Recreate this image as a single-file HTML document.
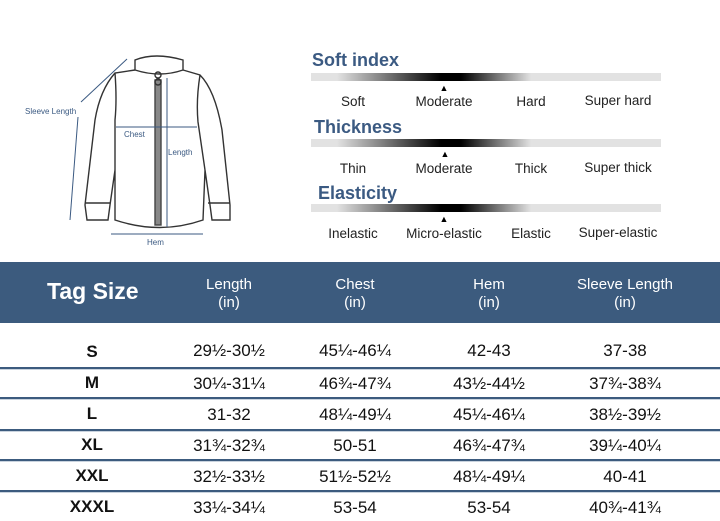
<!DOCTYPE html>
<html><head><meta charset="utf-8"><style>
body{margin:0;width:720px;height:521px;overflow:hidden;background:#fff;font-family:"Liberation Sans","DejaVu Sans",sans-serif;position:relative}
.a{position:absolute;white-space:nowrap}
.t{color:#3b5a82;font-weight:bold;font-size:18px}
.lab{font-size:13.5px;color:#222;transform:translateX(-50%)}
.bar{position:absolute;left:311px;width:350px;height:8px;background:linear-gradient(90deg,#e2e2e2 0,#e2e2e2 26px,#000 130px,#000 150px,#e2e2e2 220px,#e2e2e2 100%)}
.tri{position:absolute;font-size:9px;color:#000;transform:translateX(-50%)}
.hd{position:absolute;left:0;top:262px;width:720px;height:61px;background:#3c5b7e}
.hc{color:#fff;font-size:15px;text-align:center;line-height:18px;transform:translateX(-50%)}
.c{font-size:17px;color:#111;transform:translateX(-50%)}
.b{font-weight:bold}
.ln{position:absolute;left:0;width:720px;height:2px;background:#3c5b7e;border-bottom:1px solid #c9d3de}
</style></head><body>
<svg class="a" style="left:0;top:40px" width="260" height="220" viewBox="0 0 260 220" fill="none" stroke="#333" stroke-width="1.4">
<path d="M135 20 Q155 12 183 20 L183 30 Q160 38 135 30 Z"/>
<path d="M135 30 L115 33 Q100 50 95 80 L85 165 L87 180 L108 180 L110 165 L115 130 L115 180 Q160 195 203 180 L205 130 L210 165 L212 180 L230 180 L230 165 L222 90 Q215 50 200 35 L183 30"/>
<path d="M85 163 L110 163 M208 163 L230 163"/>
<path d="M115 33 Q117 60 115 80 L115 130 M200 35 Q196 60 198 82 L205 130"/>
<rect x="155" y="40" width="6" height="145" fill="#888" stroke="#444"/>
<circle cx="158" cy="35" r="3"/><circle cx="158" cy="42" r="3"/>
<g stroke="#3b5a82" fill="#3b5a82" stroke-width="1">
<line x1="116" y1="87" x2="197" y2="87"/>
<line x1="167" y1="38" x2="167" y2="187"/>
<line x1="111" y1="194" x2="203" y2="194"/>
<line x1="81" y1="62" x2="127" y2="19"/>
<line x1="78" y1="77" x2="70" y2="180"/>
</g>
<g fill="#3b5a82" font-size="8" stroke="none" font-family="Liberation Sans,sans-serif">
<text x="25" y="74">Sleeve Length</text><text x="124" y="97">Chest</text>
<text x="168" y="115">Length</text><text x="147" y="205">Hem</text></g>
</svg>
<div class="a t" style="left:312px;top:50px">Soft index</div>
<div class="bar" style="top:73px"></div><div class="tri" style="left:444px;top:83px">▲</div>
<div class="a lab" style="left:353px;top:94px">Soft</div><div class="a lab" style="left:444px;top:94px">Moderate</div><div class="a lab" style="left:531px;top:94px">Hard</div><div class="a lab" style="left:618px;top:93px">Super hard</div>
<div class="a t" style="left:314px;top:117px">Thickness</div>
<div class="bar" style="top:139px"></div><div class="tri" style="left:445px;top:149px">▲</div>
<div class="a lab" style="left:353px;top:161px">Thin</div><div class="a lab" style="left:444px;top:161px">Moderate</div><div class="a lab" style="left:531px;top:161px">Thick</div><div class="a lab" style="left:618px;top:160px">Super thick</div>
<div class="a t" style="left:318px;top:183px">Elasticity</div>
<div class="bar" style="top:204px"></div><div class="tri" style="left:444px;top:214px">▲</div>
<div class="a lab" style="left:353px;top:226px">Inelastic</div><div class="a lab" style="left:444px;top:226px">Micro-elastic</div><div class="a lab" style="left:531px;top:226px">Elastic</div><div class="a lab" style="left:618px;top:225px">Super-elastic</div>
<div class="hd"></div>
<div class="a b" style="left:47px;top:278px;color:#fff;font-size:23px">Tag Size</div>
<div class="a hc" style="left:229px;top:276px">Length<br>(in)</div>
<div class="a hc" style="left:355px;top:276px">Chest<br>(in)</div>
<div class="a hc" style="left:489px;top:276px">Hem<br>(in)</div>
<div class="a hc" style="left:625px;top:276px">Sleeve Length<br>(in)</div>
<div class="ln" style="top:367px"></div><div class="ln" style="top:397px"></div><div class="ln" style="top:429px"></div><div class="ln" style="top:459px"></div><div class="ln" style="top:490px"></div>
<div class="a c b" style="left:92px;top:342px">S</div><div class="a c" style="left:229px;top:341px">29½-30½</div><div class="a c" style="left:355px;top:341px">45¼-46¼</div><div class="a c" style="left:489px;top:341px">42-43</div><div class="a c" style="left:625px;top:341px">37-38</div>
<div class="a c b" style="left:92px;top:373px">M</div><div class="a c" style="left:229px;top:374px">30¼-31¼</div><div class="a c" style="left:355px;top:374px">46¾-47¾</div><div class="a c" style="left:489px;top:374px">43½-44½</div><div class="a c" style="left:625px;top:374px">37¾-38¾</div>
<div class="a c b" style="left:92px;top:404px">L</div><div class="a c" style="left:229px;top:405px">31-32</div><div class="a c" style="left:355px;top:405px">48¼-49¼</div><div class="a c" style="left:489px;top:405px">45¼-46¼</div><div class="a c" style="left:625px;top:405px">38½-39½</div>
<div class="a c b" style="left:92px;top:435px">XL</div><div class="a c" style="left:229px;top:436px">31¾-32¾</div><div class="a c" style="left:355px;top:436px">50-51</div><div class="a c" style="left:489px;top:436px">46¾-47¾</div><div class="a c" style="left:625px;top:436px">39¼-40¼</div>
<div class="a c b" style="left:92px;top:466px">XXL</div><div class="a c" style="left:229px;top:467px">32½-33½</div><div class="a c" style="left:355px;top:467px">51½-52½</div><div class="a c" style="left:489px;top:467px">48¼-49¼</div><div class="a c" style="left:625px;top:467px">40-41</div>
<div class="a c b" style="left:92px;top:497px">XXXL</div><div class="a c" style="left:229px;top:498px">33¼-34¼</div><div class="a c" style="left:355px;top:498px">53-54</div><div class="a c" style="left:489px;top:498px">53-54</div><div class="a c" style="left:625px;top:498px">40¾-41¾</div>
</body></html>
